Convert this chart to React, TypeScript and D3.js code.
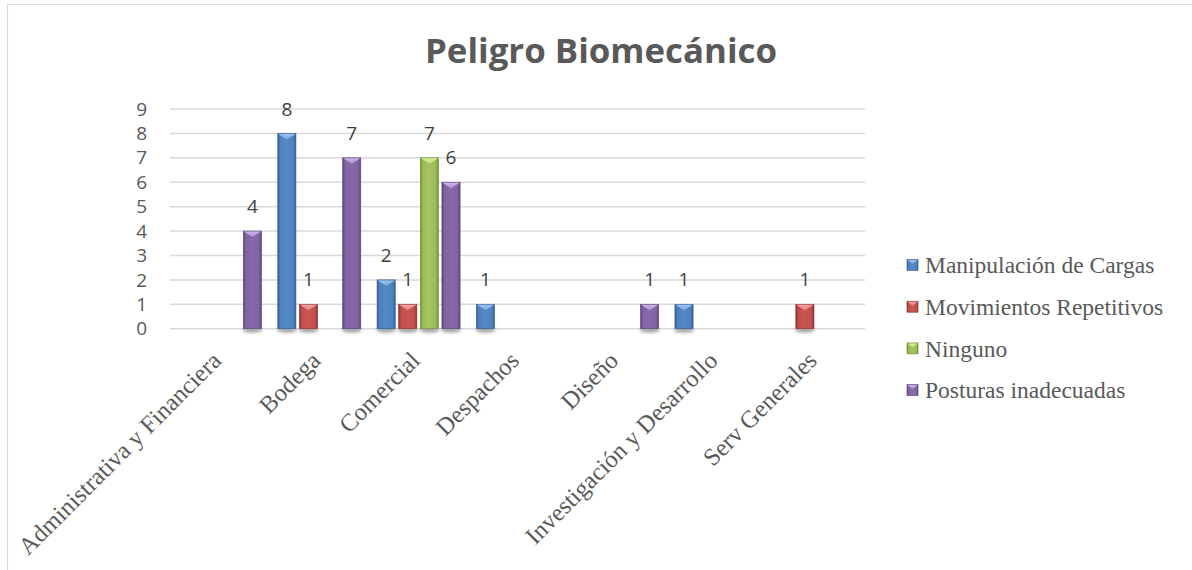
import React from "react";
import * as d3 from "d3";

const categories = [
  "Administrativa y Financiera",
  "Bodega",
  "Comercial",
  "Despachos",
  "Diseño",
  "Investigación y Desarrollo",
  "Serv Generales",
];
const seriesNames = [
  "Manipulación de Cargas",
  "Movimientos Repetitivos",
  "Ninguno",
  "Posturas inadecuadas",
];
const manipulacion = [null, 8, 2, 1, null, 1, null];
const movimientos = [null, 1, 1, null, null, null, 1];
const ninguno = [null, null, 7, null, null, null, null];
const posturas = [4, 7, 6, null, 1, null, null];
const yTicks = [0, 1, 2, 3, 4, 5, 6, 7, 8, 9];

const seriesValues = [manipulacion, movimientos, ninguno, posturas];
const colors = [
  { base: "#4f81bd", dark: "#2f5d93", light: "#9cc3f0", id: "b" },
  { base: "#c0504d", dark: "#8e2f2d", light: "#f3a3a1", id: "r" },
  { base: "#9bbb59", dark: "#6e8c35", light: "#d6ef9a", id: "g" },
  { base: "#8064a2", dark: "#59427a", light: "#c9b3ea", id: "p" },
];

const W = 1192;
const H = 570;
const plotLeft = 170;
const plotRight = 865;
const yBottom = 328.7;
const yTop = 109;

export default function App() {
  const x = d3.scaleBand<string>().domain(categories).range([plotLeft, plotRight]).paddingInner(0).paddingOuter(0);
  const xs = d3
    .scaleBand<string>()
    .domain(seriesNames)
    .range([8.5, 91.5])
    .paddingInner(0.16)
    .paddingOuter(0);
  const y = d3.scaleLinear().domain([0, 9]).range([yBottom, yTop]);
  const bw = xs.bandwidth();

  const sansFont = "'Open Sans', 'Noto Sans', sans-serif";
  const serifFont = "'Liberation Serif', 'Times New Roman', serif";

  const bars: React.ReactNode[] = [];
  const labels: React.ReactNode[] = [];
  seriesValues.forEach((vals, si) => {
    const c = colors[si];
    vals.forEach((v, ci) => {
      if (v == null) return;
      const bx = (x(categories[ci]) as number) + (xs(seriesNames[si]) as number);
      const top = y(v);
      const h = y(0) - top;
      const tri = Math.min(6, h / 2);
      bars.push(
        <g key={`b-${si}-${ci}`}>
          <ellipse cx={bx + bw / 2} cy={y(0) + 1.5} rx={bw / 2 + 1} ry={2.5} fill="#000" opacity={0.35} filter="url(#blur)" />
          <rect x={bx} y={top} width={bw} height={h} fill={`url(#grad-${c.id})`} stroke={c.dark} strokeWidth={0.6} />
          <polygon
            points={`${bx + 0.5},${top + 0.5} ${bx + bw - 0.5},${top + 0.5} ${bx + bw / 2},${top + tri}`}
            fill={`url(#tri-${c.id})`}
          />
        </g>
      );
      labels.push(
        <text
          key={`l-${si}-${ci}`}
          x={bx + bw / 2}
          y={top - 24.5}
          dy="0.35em"
          textAnchor="middle"
          fontFamily={sansFont}
          fontSize={19}
          fill="#404040"
        >
          {v}
        </text>
      );
    });
  });

  return (
    <svg
      width={W}
      height={H}
      viewBox={`0 0 ${W} ${H}`}
      style={{ position: "absolute", left: 0, top: 0, background: "#fff" }}
    >
      <defs>
        <filter id="blur" x="-50%" y="-200%" width="200%" height="500%">
          <feGaussianBlur stdDeviation="1.5" />
        </filter>
        {colors.map((c) => (
          <linearGradient key={c.id} id={`grad-${c.id}`} x1="0" y1="0" x2="1" y2="0">
            <stop offset="0%" stopColor={c.dark} />
            <stop offset="14%" stopColor={c.base} />
            <stop offset="50%" stopColor={d3.color(c.base)!.brighter(0.15).formatHex()} />
            <stop offset="86%" stopColor={c.base} />
            <stop offset="100%" stopColor={c.dark} />
          </linearGradient>
        ))}
        {colors.map((c) => (
          <linearGradient key={`t${c.id}`} id={`tri-${c.id}`} x1="0" y1="0" x2="0" y2="1">
            <stop offset="0%" stopColor={c.light} />
            <stop offset="100%" stopColor={d3.interpolateRgb(c.light, c.base)(0.4)} />
          </linearGradient>
        ))}
      </defs>

      <rect x={7.5} y={4.5} width={W} height={H} fill="#fff" stroke="#d9d9d9" strokeWidth={1.2} />

      <text
        x={601}
        y={63}
        textAnchor="middle"
        fontFamily={sansFont}
        fontWeight={700}
        fontSize={34}
        fill="#595959"
        textLength={352}
        lengthAdjust="spacingAndGlyphs"
      >
        Peligro Biomecánico
      </text>

      {yTicks.map((t) => (
        <g key={`t-${t}`}>
          <line x1={plotLeft} x2={plotRight} y1={y(t)} y2={y(t)} stroke="#d9d9d9" strokeWidth={1.5} />
          <text
            x={147}
            y={y(t)}
            dy="0.35em"
            textAnchor="end"
            fontFamily={sansFont}
            fontSize={19}
            fill="#595959"
          >
            {t}
          </text>
        </g>
      ))}

      {bars}
      {labels}

      {categories.map((cat) => {
        const cx = (x(cat) as number) + x.bandwidth() / 2 + 3;
        const cy = 362;
        return (
          <text
            key={`c-${cat}`}
            x={cx}
            y={cy}
            textAnchor="end"
            transform={`rotate(-45 ${cx} ${cy})`}
            fontFamily={serifFont}
            fontSize={24.5}
            fill="#595959"
          >
            {cat}
          </text>
        );
      })}

      {seriesNames.map((s, i) => {
        const ly = 265 + i * 41.7;
        const c = colors[i];
        return (
          <g key={`lg-${s}`}>
            <rect x={907} y={ly - 5.5} width={11} height={11} fill={`url(#grad-${c.id})`} stroke={c.dark} strokeWidth={0.6} />
            <polygon points={`${907.5},${ly - 5} ${917.5},${ly - 5} ${912.5},${ly - 1}`} fill={`url(#tri-${c.id})`} />
            <text x={925} y={ly} dy="0.35em" fontFamily={serifFont} fontSize={23.5} fill="#595959">
              {s}
            </text>
          </g>
        );
      })}
    </svg>
  );
}
